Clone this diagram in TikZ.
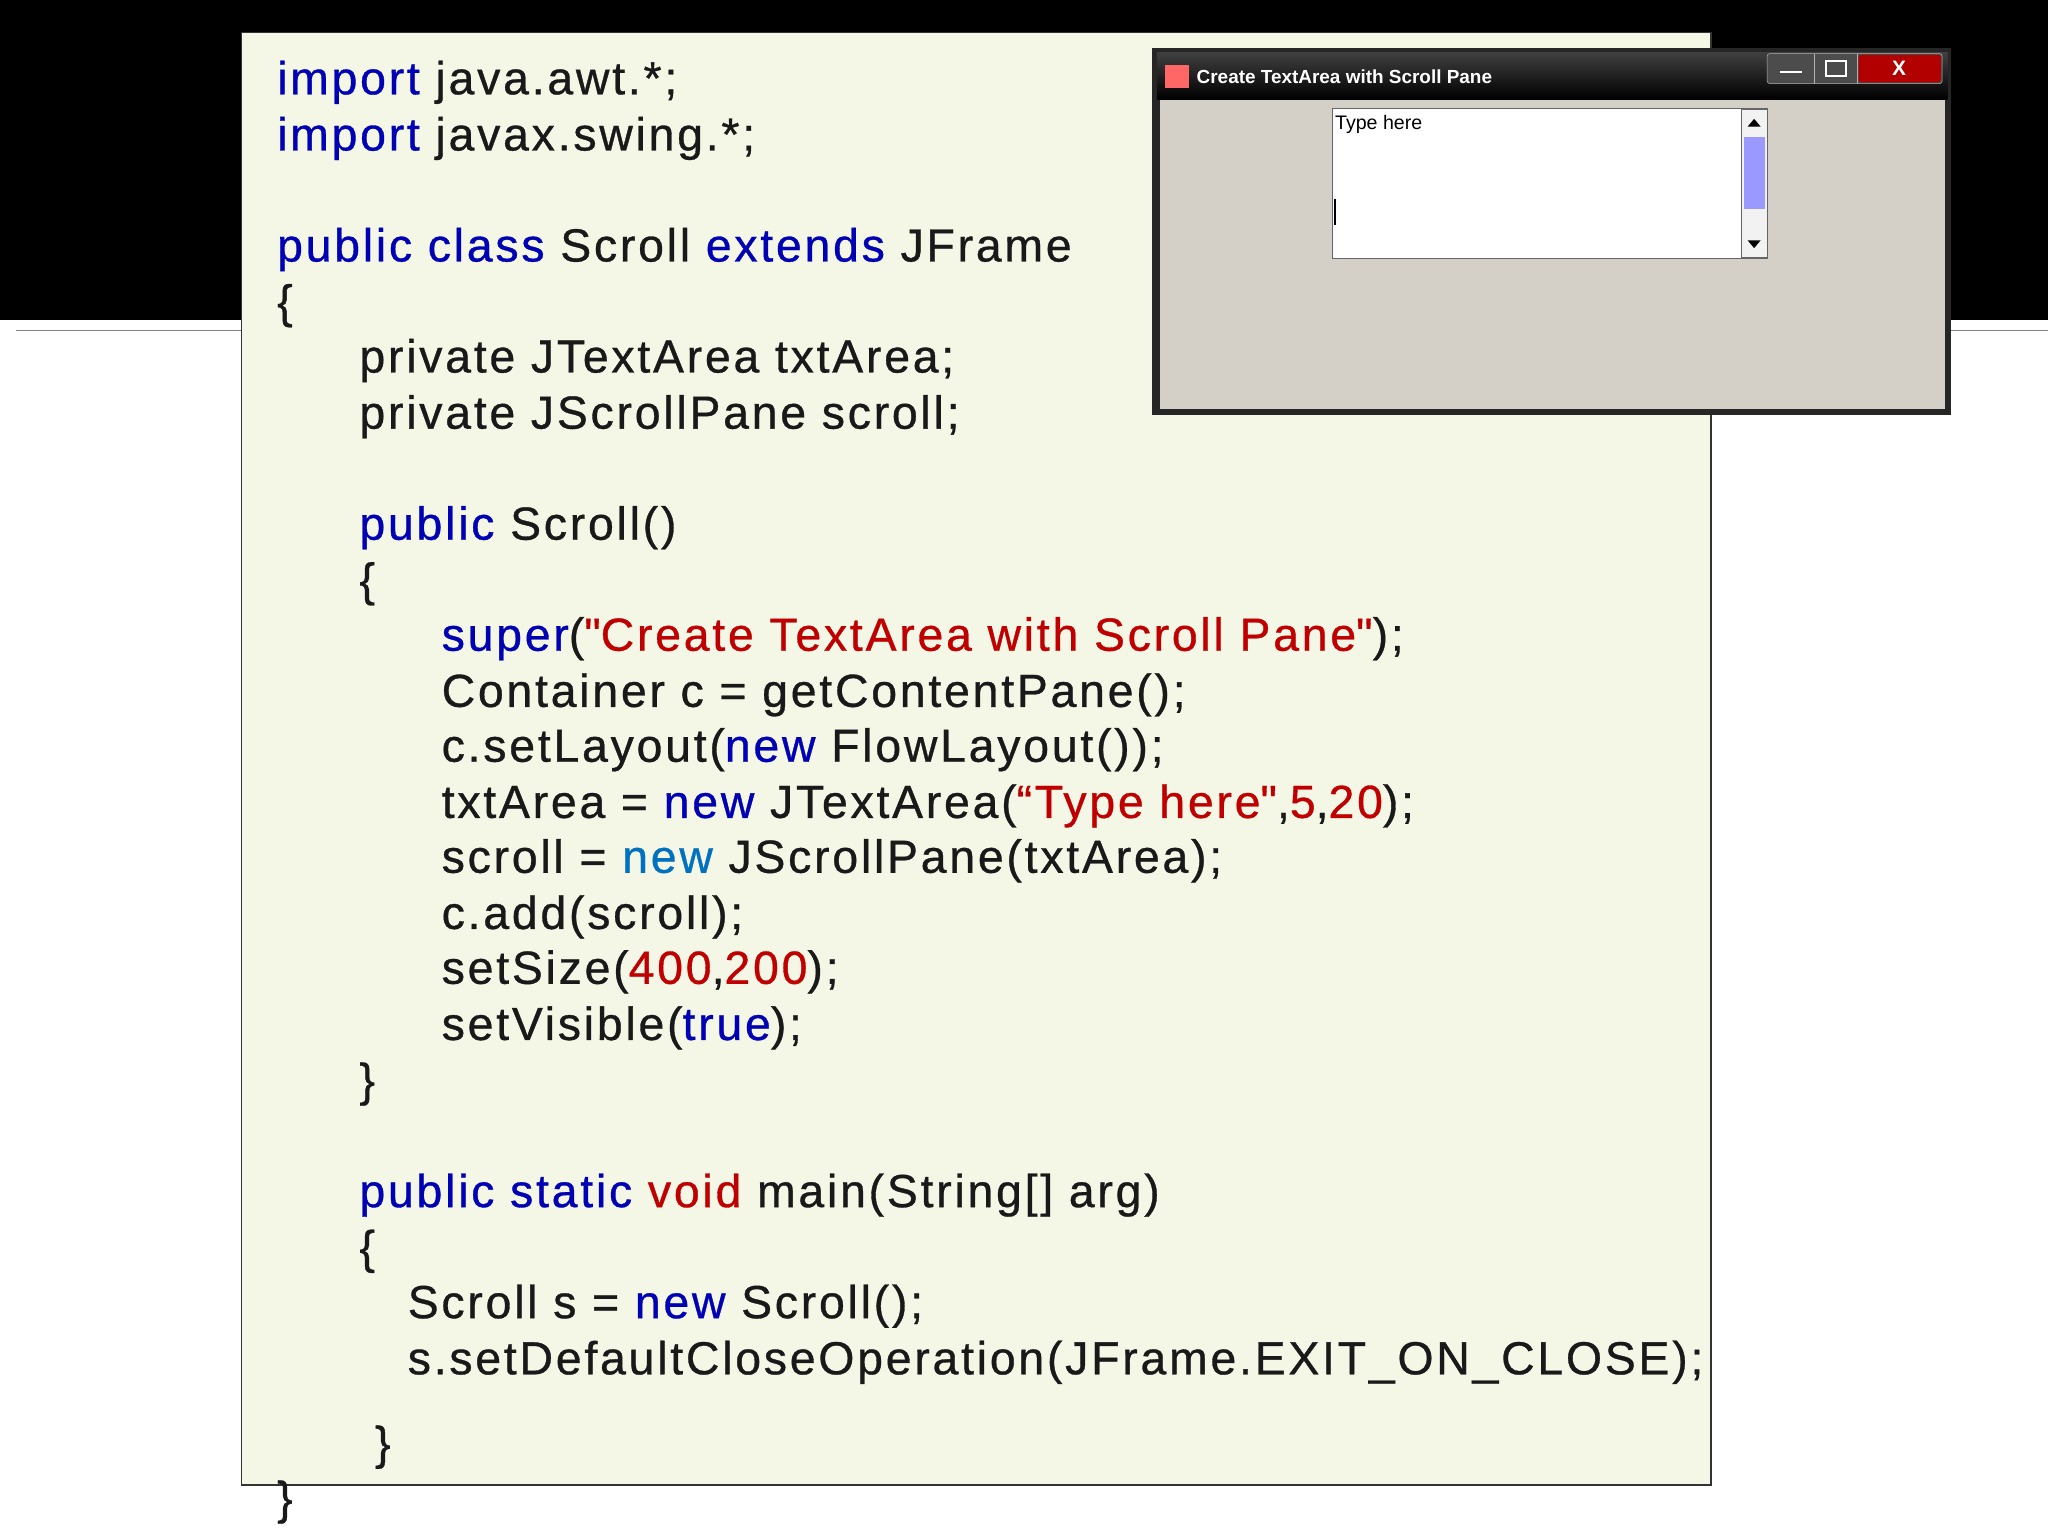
\documentclass[tikz,border=0pt]{standalone}
\usepackage{fontspec}
\setmainfont{Liberation Sans}
\newfontfamily\codefont[LetterSpace=6,FakeBold=0.7]{Liberation Sans}
\definecolor{kw}{HTML}{0000B4}
\definecolor{kw2}{HTML}{0070C0}
\definecolor{st}{HTML}{C00000}
\definecolor{cream}{HTML}{F4F6E6}
\definecolor{wgray}{HTML}{D4D0C8}
\tikzset{code/.style={anchor=west,inner sep=0pt,font=\codefont\fontsize{35.5}{40}\selectfont,text=black!90,yshift=-2pt}}
\newcommand{\K}[1]{\textcolor{kw}{#1}}
\newcommand{\R}[1]{\textcolor{st}{#1}}
\begin{document}
\begin{tikzpicture}[x=1pt,y=-1pt]
\useasboundingbox (0,0) rectangle (1568,1176);
\fill[white] (0,0) rectangle (1568,1176);
\fill[black] (0,0) rectangle (1568,245);
\draw[gray,line width=1.2] (12,253) -- (1568,253);
\draw[fill=cream,draw=black!80,line width=1.2] (185,25) rectangle (1310,1137);
\node[code] (l1) at (212,61) {\K{import} java.awt.*;};
\node[code] (l2) at (212,104) {\K{import} javax.swing.*;};
\node[code] (l3) at (212,189) {\K{public class} Scroll \K{extends} JFrame};
\node[code] (l4) at (212,232) {\{};
\node[code] (l5) at (275,274) {private JTextArea txtArea;};
\node[code] (l6) at (275,317) {private JScrollPane scroll;};
\node[code] (l7) at (275,402) {\K{public} Scroll()};
\node[code] (l8) at (275,445) {\{};
\node[code] (l9) at (338,487) {\K{super}(\R{\textquotedbl Create TextArea with Scroll Pane\textquotedbl});};
\node[code] (l10) at (338,530) {Container c = getContentPane();};
\node[code] (l11) at (338,572) {c.setLayout(\K{new} FlowLayout());};
\node[code] (l12) at (338,615) {txtArea = \K{new} JTextArea(\R{“Type here\textquotedbl},\R{5},\R{20});};
\node[code] (l13) at (338,657) {scroll = \textcolor{kw2}{new} JScrollPane(txtArea);};
\node[code] (l14) at (338,700) {c.add(scroll);};
\node[code] (l15) at (338,742) {setSize(\R{400},\R{200});};
\node[code] (l16) at (338,785) {setVisible(\K{true});};
\node[code] (l17) at (275,828) {\}};
\node[code] (l18) at (275,913) {\K{public static} \R{void} main(String[] arg)};
\node[code] (l19) at (275,956) {\{};
\node[code] (l20) at (312,998) {Scroll s = \K{new} Scroll();};
\node[code] (l21) at (312,1041) {s.setDefaultCloseOperation(JFrame.EXIT\_ON\_CLOSE);};
\node[code] (l22) at (287,1106) {\}};
\node[code] (l23) at (212,1148) {\}};
% window
\fill[black!85] (882,37) rectangle (1494,318);
\fill[wgray] (888,76) rectangle (1489,313);
\shade[top color=black!75,bottom color=black] (886,40) rectangle (1491,76);
\node[anchor=west,inner sep=0pt,text=white,font=\fontsize{14.5}{18}\selectfont\bfseries] (title) at (916,59) {Create TextArea with Scroll Pane};
\fill[red!60!white] (892,50) rectangle (910,67);
\draw[white!70!black,fill=black!70,rounded corners=2] (1353,41) rectangle (1487,64);
\draw[white!70!black] (1389,41) -- (1389,64) (1422,41) -- (1422,64);
\fill[red!70!black,rounded corners=2] (1423,42) rectangle (1486,63);
\draw[white,line width=2] (1363,55) -- (1380,55);
\draw[white,line width=1.5] (1398,47) rectangle (1413,58);
\node[text=white,font=\bfseries\fontsize{16}{16}\selectfont] (x) at (1454,52) {X};
\draw[black!60,fill=white] (1020,83) rectangle (1353,198);
\node[anchor=north west,inner sep=1pt,font=\fontsize{15}{18}\selectfont] (th) at (1021,87) {Type here};
\draw[black!60,fill=black!5] (1333,84) rectangle (1353,197);
\fill[blue!40!white] (1335,105) rectangle (1351,160);
\fill[black] (1338,97) -- (1348,97) -- (1343,91) -- cycle;
\fill[black] (1338,184) -- (1348,184) -- (1343,190) -- cycle;
\draw[black,line width=1.5] (1022,152) -- (1022,172);
\end{tikzpicture}
\end{document}
